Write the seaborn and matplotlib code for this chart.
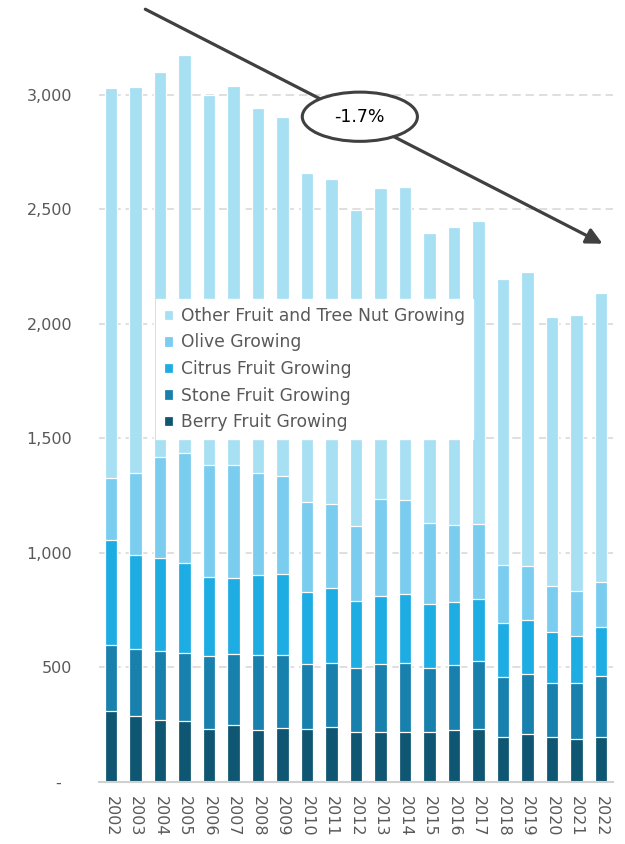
import numpy as np
import matplotlib
matplotlib.use("Agg")
import matplotlib.pyplot as plt
import seaborn as sns
from matplotlib.patches import Ellipse
from matplotlib.ticker import FuncFormatter

# === Dữ liệu ===
years = [str(y) for y in range(2002, 2023)]
berry = [310, 290, 272, 268, 233, 248, 227, 237, 233, 242, 220,
         220, 220, 218, 225, 232, 198, 211, 198, 188, 198]
stone = [287, 291, 301, 297, 319, 310, 328, 318, 281, 279, 279,
         295, 301, 281, 287, 298, 262, 261, 236, 246, 266]
citrus = [458, 412, 404, 393, 345, 334, 350, 353, 317, 326, 293,
          299, 300, 277, 275, 268, 236, 237, 222, 204, 214]
olive = [274, 358, 441, 479, 487, 494, 444, 427, 392, 367, 326,
         423, 411, 354, 334, 330, 252, 236, 200, 196, 195]
other = [1702, 1684, 1681, 1738, 1615, 1652, 1596, 1568, 1437, 1418, 1380,
         1356, 1366, 1268, 1304, 1322, 1249, 1284, 1175, 1204, 1264]

series_names = ["Berry Fruit Growing", "Stone Fruit Growing", "Citrus Fruit Growing",
                "Olive Growing", "Other Fruit and Tree Nut Growing"]
series_vals = [berry, stone, citrus, olive, other]
colors = ["#0F5672", "#1780AC", "#1EADE3", "#7ACDEE", "#A7DFF3"]
trend_label = "-1.7%"

sns.set_theme(style="white")
plt.rcParams['font.family'] = ['DejaVu Sans']
text_col = "#595959"

fig = plt.figure(figsize=(6.25, 8.44), dpi=100)
ax = fig.add_axes([0.158, 0.0735, 0.823, 0.9225])

# Cột chồng: vẽ tổng tích lũy từ lớn đến nhỏ
cum = np.cumsum(np.array(series_vals), axis=0)
for i in range(len(series_names) - 1, -1, -1):
    sns.barplot(x=years, y=cum[i], color=colors[i], width=0.5, saturation=1,
                edgecolor="white", linewidth=0.9, errorbar=None,
                label=series_names[i], ax=ax, zorder=2)

ax.set_xlim(-0.5, 20.5)
ax.set_ylim(0, 3400)
ax.set_xlabel("")
ax.set_ylabel("")
ax.set_yticks(range(0, 3001, 500))
ax.yaxis.set_major_formatter(FuncFormatter(lambda v, p: "-  " if v == 0 else f"{int(v):,}"))
ax.grid(axis="y", color="#D9D9D9", linestyle=(0, (5, 3)), linewidth=1.2, zorder=0)
ax.set_axisbelow(True)
for s in ["top", "right", "left"]:
    ax.spines[s].set_visible(False)
ax.spines["bottom"].set_color("#D0D0D0")
ax.spines["bottom"].set_linewidth(1.5)
ax.tick_params(axis="y", length=0, pad=19, labelsize=11.5, labelcolor=text_col)
ax.tick_params(axis="x", length=0, pad=10, labelsize=11.5, labelcolor=text_col)
for lbl in ax.get_xticklabels():
    lbl.set_rotation(-90)
    lbl.set_va("top")
    lbl.set_ha("center")

# Chú giải
handles, labels = ax.get_legend_handles_labels()
leg = ax.legend(handles, labels, loc="upper left", bbox_to_anchor=(0.095, 0.631),
                frameon=True, framealpha=1, facecolor="white", edgecolor="white",
                fontsize=12.3, handlelength=0.55, handleheight=0.55, handletextpad=0.45,
                labelspacing=0.5, borderpad=0.45, fancybox=False)
for t in leg.get_texts():
    t.set_color(text_col)
leg.set_zorder(5)

# Mũi tên xu hướng và nhãn
ax.annotate("", xy=(20.17, 2345), xytext=(1.30, 3380),
            arrowprops=dict(arrowstyle="-|>", color="#404040", lw=2.3, mutation_scale=24),
            annotation_clip=False, zorder=6)
ell = Ellipse((10.16, 2905), width=4.7, height=215, facecolor="white",
              edgecolor="#404040", linewidth=2.2, zorder=7, clip_on=False)
ax.add_patch(ell)
ax.text(10.16, 2905, trend_label, ha="center", va="center", fontsize=12.5,
        color="black", zorder=8)

fig.savefig("out.png", dpi=100)
